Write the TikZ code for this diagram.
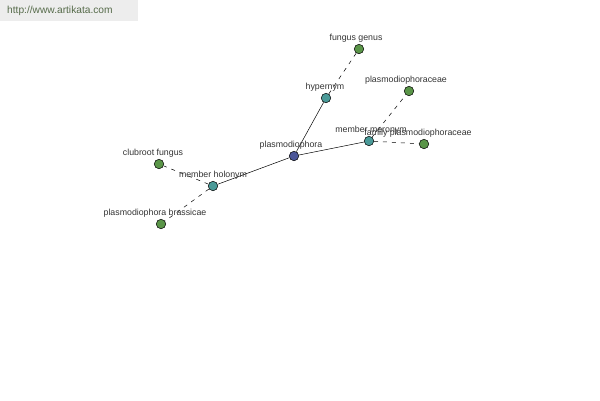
\documentclass[tikz,border=0pt]{standalone}
\usepackage{fontspec}
\setmainfont{Liberation Sans}
\begin{document}
\begin{tikzpicture}[x=1pt,y=-1pt,
  dot/.style={circle,draw=black,line width=0.5pt,minimum size=9.5pt,inner sep=0pt},
  lbl/.style={font=\fontsize{8.8}{9}\selectfont,text=black!80,inner sep=0pt},
  rel/.style={line width=0.5pt},
  drel/.style={line width=0.5pt,dash pattern=on 4pt off 5pt}]
\definecolor{gn}{HTML}{5A9548}
\definecolor{tl}{HTML}{4A9A98}
\definecolor{bl}{HTML}{4A5598}
\definecolor{urlc}{HTML}{566B4A}
\tikzset{gdot/.style={dot,fill=gn},tdot/.style={dot,fill=tl},bdot/.style={dot,fill=bl}}
\useasboundingbox (0,0) rectangle (600,400);
\fill[black!7] (0,0) rectangle (138,21);
\node[font=\fontsize{10.2}{11}\selectfont,text=urlc,anchor=west,inner sep=0pt] (url) at (7,11) {http://www.artikata.com};
\node[bdot] (p) at (294,156) {};
\node[tdot] (hyp) at (326,98) {};
\node[gdot] (fg) at (359,49) {};
\node[tdot] (mm) at (369,141) {};
\node[gdot] (pc) at (409,91) {};
\node[gdot] (fp) at (424,144) {};
\node[tdot] (mh) at (213,186) {};
\node[gdot] (cf) at (159,164) {};
\node[gdot] (pb) at (161,224) {};
\draw[rel] (p) -- (hyp);
\draw[rel] (p) -- (mm);
\draw[rel] (p) -- (mh);
\draw[drel] (hyp) -- (fg);
\draw[drel] (mm) -- (pc);
\draw[drel] (mm) -- (fp);
\draw[drel] (mh) -- (cf);
\draw[drel] (mh) -- (pb);
\node[lbl] (lp) at (291,145) {plasmodiophora};
\node[lbl] (lhyp) at (325,87) {hypernym};
\node[lbl] (lfg) at (356,38) {fungus genus};
\node[lbl] (lmm) at (371,130) {member meronym};
\node[lbl] (lpc) at (406,80) {plasmodiophoraceae};
\node[lbl] (lfp) at (418,133) {family plasmodiophoraceae};
\node[lbl] (lmh) at (213,175) {member holonym};
\node[lbl] (lcf) at (153,153) {clubroot fungus};
\node[lbl] (lpb) at (155,213) {plasmodiophora brassicae};
\end{tikzpicture}
\end{document}
